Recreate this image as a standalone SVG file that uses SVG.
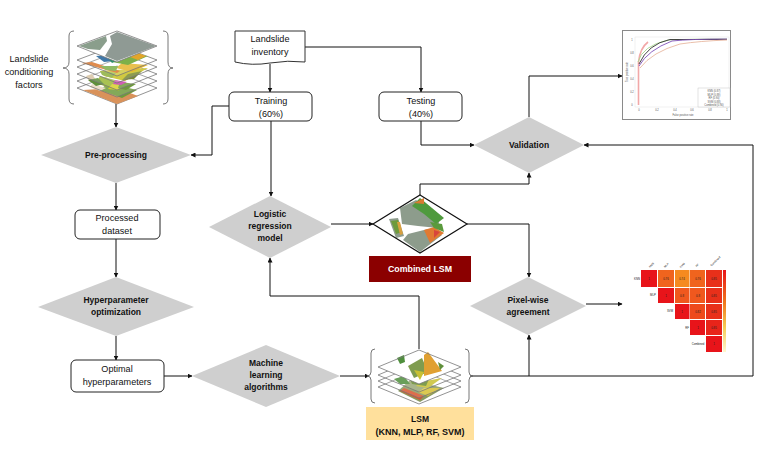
<svg xmlns="http://www.w3.org/2000/svg" width="767" height="449" viewBox="0 0 767 449">
<style>
text{font-family:"Liberation Sans",Arial,sans-serif;font-size:9.1px;fill:#111;text-anchor:middle}
.b{font-weight:bold;font-size:8.5px}
.dia{fill:#cfcfcf}
.box{fill:#fff;stroke:#222;stroke-width:1}
.c{fill:none;stroke:#111;stroke-width:1;marker-end:url(#a)}
.n{fill:none;stroke:#111;stroke-width:1}
.lay{fill:#fff;fill-opacity:.15;stroke:#777;stroke-width:.8}
.br{fill:none;stroke:#666;stroke-width:.9}
.s{font-size:2.6px;fill:#555}
.m{font-size:2.8px;fill:#222}
.t{stroke:#fff;stroke-width:.5}
</style>
<defs>
<marker id="a" markerWidth="5" markerHeight="5" refX="4.500" refY="2.500" orient="auto" markerUnits="userSpaceOnUse"><path d="M0 0L5 2.500L0 5z" fill="#111"/></marker>
<clipPath id="cd"><polygon points="420,195 467,224 420,253 373,224"/></clipPath>
<filter id="soft" x="-5%" y="-5%" width="110%" height="110%"><feGaussianBlur stdDeviation=".45"/></filter>
<linearGradient id="cb" x1="0" y1="0" x2="0" y2="1"><stop offset="0" stop-color="#e8141a"/><stop offset=".4" stop-color="#f0781e"/><stop offset=".7" stop-color="#f5cc55"/><stop offset="1" stop-color="#fff8d0"/></linearGradient>
</defs>
<rect width="767" height="449" fill="#fff"/>

<g id="connectors">
<path class="c" d="M116 104V127"/>
<path class="c" d="M116 183V210"/>
<path class="c" d="M116 239V277"/>
<path class="c" d="M116 336V360"/>
<path class="c" d="M164 376H192"/>
<path class="c" d="M340 376H369"/>
<path class="c" d="M270 64V92"/>
<path class="c" d="M305 47H421V92"/>
<path class="c" d="M229 106H212V155H191"/>
<path class="c" d="M271 121V196"/>
<path class="c" d="M421 121V145H474"/>
<path class="c" d="M331 224H373"/>
<path class="c" d="M419 349V296H270V258"/>
<path class="c" d="M420 195V184H529V173"/>
<path class="c" d="M529 117V76H622"/>
<path class="c" d="M467 224H529V277"/>
<path class="c" d="M529 376V335"/>
<path class="n" d="M470 376H753V145"/>
<path class="c" d="M753 145H584"/>
<path class="c" d="M586 304H622"/>
</g>

<g id="factors-label"><text x="29" y="62">Landslide</text><text x="29" y="75">conditioning</text><text x="29" y="88">factors</text></g>
<g id="factors">
<path class="br" d="M74 31Q69 31 69 36V62Q69 68 63 68Q69 68 69 74V99Q69 104 74 104"/>
<path class="br" d="M163 31Q168 31 168 36V62Q168 68 173 68Q168 68 168 74V99Q168 104 163 104"/>
<polygon class="lay" points="117,73 157,88 117,104 77,88"/>
<g filter="url(#soft)">
<polygon fill="#d9925a" points="117,88 138,96 117,104 83,90"/>
<polygon fill="#6e9a3c" points="108,83 137,90 122,98 100,90"/>
<polygon fill="#e8d8c0" points="92,84 106,88 100,91 90,87"/>
</g>
<polygon class="lay" points="117,66 157,81 117,97 77,81"/>
<g filter="url(#soft)">
<polygon fill="#9ab835" points="100,76 130,84 118,91 96,83"/>
<polygon fill="#d8c4a4" points="86,76 92,74 96,80 90,82"/>
<polygon fill="#5f8f3a" points="88,80 98,78 104,84 96,86"/>
<polygon fill="#d6d02c" points="112,84 122,85 118,90 108,89"/>
<polygon fill="#6e9a3c" points="120,82 136,84 126,90 118,88"/>
<polygon fill="#c83fa8" points="115,80 127,82 121,85 113,84"/>
</g>
<polygon class="lay" points="117,59 157,74 117,90 77,74"/>
<g filter="url(#soft)">
<polygon fill="#c8c020" points="100,71 148,68 125,81 104,76"/>
<polygon fill="#7a8a30" points="128,74 142,71 134,79 122,80"/>
<polygon fill="#8cb040" points="100,71 116,73 112,78 102,75"/>
</g>
<polygon class="lay" points="117,52 157,67 117,83 77,67"/>
<g filter="url(#soft)">
<polygon fill="#d9772f" points="82,63 92,62 120,71 117,73"/>
<polygon fill="#e6b52f" points="122,63 148,65 132,72 116,68"/>
<polygon fill="#7cae48" points="100,66 118,66 116,71 106,70"/>
</g>
<polygon class="lay" points="117,45 157,60 117,76 77,60"/>
<g filter="url(#soft)">
<polygon fill="#3f78a8" points="96,56 108,55 114,61 104,62"/>
<polygon fill="#7db04a" points="112,54 148,56 128,65 112,62"/>
<polygon fill="#e2a52a" points="136,52 146,56 138,60 130,57"/>
<polygon fill="#2f8f6a" points="108,58 118,60 112,63"/>
</g>
<polygon points="117,31 157,46 117,62 77,46" fill="#fff"/>
<g filter="url(#soft)">
<polygon fill="#8f9a94" points="117,32 156,46 117,61 105,56 112,44 110,36"/>
<polygon fill="#8a9e8c" points="79,46 106,36 107,41 100,50 88,49"/>
</g>
<polygon points="117,31 157,46 117,62 77,46" fill="none" stroke="#777" stroke-width=".8"/>
</g>

<g id="preprocessing"><polygon class="dia" points="41,155 116,127 191,155 116,183"/><text class="b" x="116" y="158">Pre-processing</text></g>
<g id="processed"><rect class="box" x="75" y="210" width="85" height="29" rx="5"/><text x="117" y="221">Processed</text><text x="117" y="234">dataset</text></g>
<g id="hyperopt"><polygon class="dia" points="38,307 116,277 194,307 116,336"/><text class="b" x="116" y="303">Hyperparameter</text><text class="b" x="116" y="315">optimization</text></g>
<g id="optimal"><rect class="box" x="71" y="360" width="93" height="32" rx="5"/><text x="117" y="372">Optimal</text><text x="117" y="385">hyperparameters</text></g>
<g id="ml"><polygon class="dia" points="192,376 266,345 340,376 266,407"/><text class="b" x="266" y="366">Machine</text><text class="b" x="266" y="378">learning</text><text class="b" x="266" y="390">algorithms</text></g>

<g id="inventory"><path d="M235 31H305V62Q288 60 270 63Q252 66 235 62Z" fill="#fff" stroke="#333"/><text x="270" y="42">Landslide</text><text x="270" y="55">inventory</text></g>
<g id="training"><rect class="box" x="229" y="92" width="83" height="29" rx="5"/><text x="271" y="104">Training</text><text x="271" y="117">(60%)</text></g>
<g id="testing"><rect class="box" x="379" y="92" width="83" height="29" rx="5"/><text x="421" y="104">Testing</text><text x="421" y="117">(40%)</text></g>
<g id="logistic"><polygon class="dia" points="209,227 270,196 331,227 270,258"/><text class="b" x="270" y="217">Logistic</text><text class="b" x="270" y="229">regression</text><text class="b" x="270" y="241">model</text></g>
<g id="validation"><polygon class="dia" points="474,145 529,117 584,145 529,173"/><text class="b" x="529" y="148">Validation</text></g>
<g id="pixelwise"><polygon class="dia" points="470,306 528,277 586,306 528,335"/><text class="b" x="528" y="303">Pixel-wise</text><text class="b" x="528" y="315">agreement</text></g>

<g id="combined">
<polygon points="420,195 467,224 420,253 373,224" fill="#fff"/>
<g clip-path="url(#cd)"><g filter="url(#soft)">
<polygon fill="#8d9c8c" points="400,208 416,200 440,216 438,228 418,226 402,224"/>
<polygon fill="#4f9a3e" points="412,206 420,198 432,208 444,218 436,224 424,214"/>
<polygon fill="#d97a30" points="414,203 424,198 424,204"/>
<polygon fill="#8d9c8c" points="389,219 398,218 404,236 396,238"/>
<polygon fill="#6e9a3c" points="391,221 398,220 402,232 396,234"/>
<polygon fill="#d8a040" points="397,222 400,222 403,234 400,235"/>
<polygon fill="#8d9c8c" points="403,240 408,234 428,229 442,235 420,252"/>
<polygon fill="#e07a30" points="424,230 434,227 444,233 430,243"/>
<polygon fill="#5a9a3e" points="430,222 442,224 444,232 434,228"/>
<polygon fill="#d8443a" points="434,230 440,232 434,238"/>
</g></g>
<polygon points="420,195 467,224 420,253 373,224" fill="none" stroke="#111" stroke-width="1.2"/>
</g>
<g id="combined-lsm"><rect x="369" y="256" width="102" height="26" fill="#8b0000"/><text x="420" y="272" style="fill:#fff;font-weight:bold;font-size:8.8px">Combined LSM</text></g>

<g id="lsm">
<path class="br" d="M375 349Q371 349 371 353V372Q371 376 367 376Q371 376 371 380V399Q371 403 375 403"/>
<path class="br" d="M465 349Q469 349 469 353V372Q469 376 473 376Q469 376 469 380V399Q469 403 465 403"/>
<polygon class="lay" points="419,370 461,387 419,404 378,387"/>
<g filter="url(#soft)">
<polygon fill="#8a9a60" points="410,380 444,388 420,402 398,391"/>
<polygon fill="#d8552e" points="404,388 424,396 420,400 400,391"/>
<polygon fill="#d6c030" points="424,388 440,388 428,396 418,392"/>
</g>
<polygon class="lay" points="419,364 461,381 419,398 378,381"/>
<g filter="url(#soft)">
<polygon fill="#4f8f3c" points="394,379 404,376 410,384 400,384"/>
<polygon fill="#c8c030" points="420,382 442,378 428,388 416,386"/>
</g>
<polygon class="lay" points="419,358 461,375 419,392 378,375"/>
<g filter="url(#soft)"><polygon fill="#7f9c50" points="408,374 432,372 426,386 412,384"/></g>
<polygon points="419,350 461,367 419,384 378,367" fill="#fff"/>
<g filter="url(#soft)">
<polygon fill="#4f8f3c" points="397,358 404,355 405,362 400,364"/>
<polygon fill="#7f9c50" points="408,366 422,358 428,372 414,378"/>
<polygon fill="#e0a030" points="424,355 428,352 442,371 424,376"/>
<polygon fill="#5f8f3a" points="438,362 444,366 440,370"/>
<polygon fill="#c8c030" points="414,370 424,372 420,380"/>
</g>
<polygon points="419,350 461,367 419,384 378,367" fill="none" stroke="#777" stroke-width=".8"/>
</g>
<g id="lsm-label"><rect x="366" y="407" width="108" height="33" fill="#ffe09c"/><text class="b" x="420" y="422">LSM</text><text class="b" x="420" y="435" style="font-size:9px">(KNN, MLP, RF, SVM)</text></g>

<g id="roc">
<rect x="622.500" y="30.500" width="108" height="89" fill="#fff" stroke="#8a8a8a"/>
<rect x="635" y="37" width="94" height="70" fill="#fff" stroke="#ddd" stroke-width=".4"/>
<g filter="url(#soft)">
<path d="M638.500 105V62Q640 48 648 42" fill="none" stroke="#f2a8a8" stroke-width="1.6"/>
<path d="M638 62Q642 46 668 40Q690 39 727 39" fill="none" stroke="#a8d890" stroke-width=".9"/>
<path d="M639 64Q648 44 670 39.500H727" fill="none" stroke="#333" stroke-width=".9"/>
<path d="M639 66Q648 50 672 41Q690 39 727 39" fill="none" stroke="#8050b8" stroke-width=".9"/>
<path d="M640 68Q652 52 680 44Q700 41 727 40" fill="none" stroke="#e8b8a0" stroke-width=".9"/>
</g>
<rect x="698" y="88" width="32" height="19" fill="#fff" stroke="#bbb" stroke-width=".4"/>
<text class="s" x="714" y="92">KNN (0.87)</text><text class="s" x="714" y="95.500">MLP (0.89)</text><text class="s" x="714" y="99">RF (0.90)</text><text class="s" x="714" y="102.500">SVM (0.88)</text><text class="s" x="714" y="106">Combined (0.90)</text>
<text class="s" x="683" y="116">False positive rate</text>
<text class="s" x="628" y="72" transform="rotate(-90 628 72)">True positive rate</text>
<text class="s" x="632" y="41">1</text><text class="s" x="632" y="54">0.8</text><text class="s" x="632" y="67">0.6</text><text class="s" x="632" y="80">0.4</text><text class="s" x="632" y="93">0.2</text><text class="s" x="632" y="106">0</text>
<text class="s" x="639" y="111">0</text><text class="s" x="657" y="111">0.2</text><text class="s" x="675" y="111">0.4</text><text class="s" x="692" y="111">0.6</text><text class="s" x="710" y="111">0.8</text><text class="s" x="727" y="111">1</text>
</g>

<g id="heatmap">
<rect x="641" y="270" width="16" height="17" fill="#e8141a"/><rect x="658" y="270" width="16" height="17" fill="#f0641e"/><rect x="675" y="270" width="14.500" height="17" fill="#f58a20"/><rect x="690" y="270" width="15" height="17" fill="#f0641e"/><rect x="706" y="270" width="16" height="17" fill="#e8301a"/>
<rect x="658" y="288" width="16" height="15" fill="#e8141a"/><rect x="675" y="288" width="14.500" height="15" fill="#f0581e"/><rect x="690" y="288" width="15" height="15" fill="#f0581e"/><rect x="706" y="288" width="16" height="15" fill="#e8301a"/>
<rect x="675" y="304" width="14.500" height="15" fill="#e8141a"/><rect x="690" y="304" width="15" height="15" fill="#ee4a1c"/><rect x="706" y="304" width="16" height="15" fill="#e8301a"/>
<rect x="690" y="320" width="15" height="15" fill="#e8141a"/><rect x="706" y="320" width="16" height="15" fill="#e8241a"/>
<rect x="706" y="336" width="16" height="16" fill="#e8141a"/>
<rect x="723" y="270" width="3" height="82" fill="url(#cb)"/>
<text class="m" x="637" y="280">KNN</text><text class="m" x="653" y="296">MLP</text><text class="m" x="670" y="312">SVM</text><text class="m" x="687" y="329">RF</text><text class="m" x="698" y="345">Combined</text>
<text class="m" x="649" y="280">1</text>
<text class="m" x="666" y="280">0.76</text><text class="m" x="682" y="280">0.74</text><text class="m" x="698" y="280">0.76</text><text class="m" x="714" y="280">0.85</text>
<text class="m" x="666" y="297">1</text><text class="m" x="682" y="297">0.8</text><text class="m" x="698" y="297">0.8</text><text class="m" x="714" y="297">0.85</text>
<text class="m" x="682" y="313">1</text><text class="m" x="698" y="313">0.82</text><text class="m" x="714" y="313">0.85</text>
<text class="m" x="698" y="329">1</text><text class="m" x="714" y="329">0.85</text><text class="m" x="714" y="345">1</text>
<text class="m" transform="rotate(-45 652 266)" x="652" y="266">KNN</text><text class="m" transform="rotate(-45 667 266)" x="667" y="266">MLP</text><text class="m" transform="rotate(-45 683 266)" x="683" y="266">SVM</text><text class="m" transform="rotate(-45 698 266)" x="698" y="266">RF</text><text class="m" transform="rotate(-45 716 262)" x="716" y="262">Combined</text>
</g>
</svg>
